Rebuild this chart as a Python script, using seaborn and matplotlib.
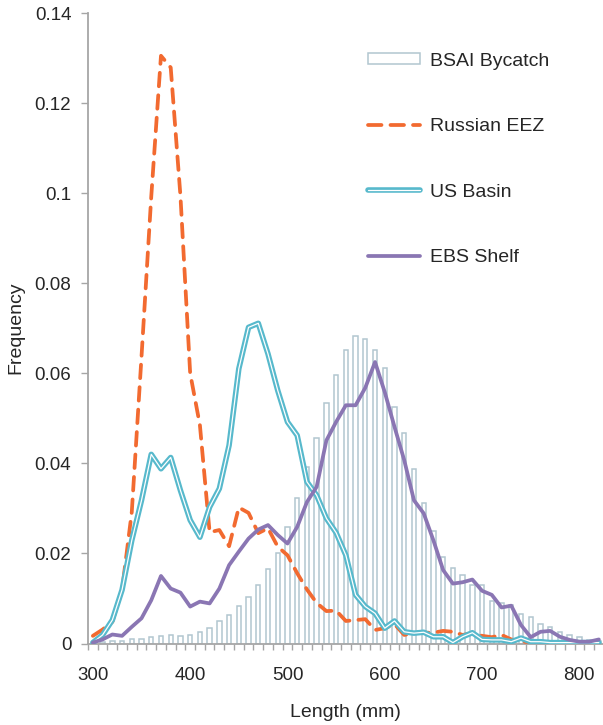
import matplotlib
matplotlib.use("Agg")
import numpy as np
import pandas as pd
import seaborn as sns
import matplotlib.pyplot as plt
import matplotlib.patheffects as pe
from matplotlib.ticker import FixedLocator

# length classes (mm), 10 mm bins
lengths = list(range(300, 830, 10))

bsai_bycatch = [
    0.0000, 0.0003, 0.0005, 0.0006, 0.0009, 0.0011, 0.0014, 0.0017, 0.0019, 0.0017,
    0.0018, 0.0025, 0.0035, 0.0051, 0.0064, 0.0084, 0.0104, 0.0131, 0.0165, 0.0200,
    0.0259, 0.0322, 0.0392, 0.0457, 0.0535, 0.0597, 0.0651, 0.0682, 0.0677, 0.0651,
    0.0612, 0.0525, 0.0467, 0.0388, 0.0311, 0.0249, 0.0192, 0.0168, 0.0153, 0.0130,
    0.0130, 0.0094, 0.0089, 0.0085, 0.0065, 0.0058, 0.0043, 0.0037, 0.0026, 0.0019,
    0.0014, 0.0008, 0.0005,
]
russian_eez = [
    0.0017, 0.0031, 0.0048, 0.0119, 0.0292, 0.0637, 0.0992, 0.1305, 0.1279, 0.0994,
    0.0600, 0.0485, 0.0247, 0.0252, 0.0216, 0.0302, 0.0290, 0.0245, 0.0256, 0.0215,
    0.0196, 0.0156, 0.0120, 0.0090, 0.0072, 0.0073, 0.0050, 0.0052, 0.0054, 0.0030,
    0.0034, 0.0043, 0.0019, 0.0023, 0.0024, 0.0024, 0.0028, 0.0026, 0.0019, 0.0023,
    0.0017, 0.0014, 0.0019, 0.0009, 0.0004, 0.0003, 0.0003, 0.0003, 0.0003, 0.0003,
    0.0003, 0.0003, 0.0003,
]
us_basin = [
    0.0002, 0.0019, 0.0052, 0.0119, 0.0229, 0.0318, 0.0420, 0.0388, 0.0413, 0.0340,
    0.0274, 0.0236, 0.0303, 0.0344, 0.0440, 0.0610, 0.0702, 0.0711, 0.0643, 0.0562,
    0.0492, 0.0462, 0.0359, 0.0329, 0.0278, 0.0246, 0.0196, 0.0108, 0.0082, 0.0067,
    0.0034, 0.0050, 0.0026, 0.0023, 0.0025, 0.0015, 0.0015, 0.0002, 0.0015, 0.0024,
    0.0009, 0.0008, 0.0008, 0.0004, 0.0012, 0.0004, 0.0004, 0.0002, 0.0002, 0.0002,
    0.0002, 0.0002, 0.0002,
]
ebs_shelf = [
    0.0002, 0.0009, 0.0020, 0.0017, 0.0037, 0.0056, 0.0096, 0.0150, 0.0122, 0.0113,
    0.0082, 0.0093, 0.0089, 0.0122, 0.0174, 0.0204, 0.0233, 0.0253, 0.0263, 0.0241,
    0.0222, 0.0259, 0.0314, 0.0348, 0.0451, 0.0492, 0.0529, 0.0529, 0.0568, 0.0625,
    0.0558, 0.0481, 0.0407, 0.0318, 0.0289, 0.0229, 0.0163, 0.0133, 0.0136, 0.0142,
    0.0117, 0.0108, 0.0080, 0.0084, 0.0041, 0.0014, 0.0026, 0.0028, 0.0015, 0.0008,
    0.0004, 0.0004, 0.0009,
]

series_names = ["BSAI Bycatch", "Russian EEZ", "US Basin", "EBS Shelf"]
x_ticks = [300, 400, 500, 600, 700, 800]
y_ticks = [0, 0.02, 0.04, 0.06, 0.08, 0.10, 0.12, 0.14]
y_tick_labels = ["0", "0.02", "0.04", "0.06", "0.08", "0.1", "0.12", "0.14"]

sns.set_style("ticks")
plt.rcParams['font.family'] = ['Liberation Sans', 'DejaVu Sans']

ORANGE = "#f26a30"
CYAN = "#57b9cc"
PURPLE = "#8a76b3"
BAR_EDGE = "#b2c6d0"
AXIS_GRAY = "#a6a6a6"

fig = plt.figure(figsize=(6.03, 7.25), dpi=100)
ax = fig.add_axes([88 / 603, 81.5 / 725, 515.7 / 603, 630.5 / 725])

df = pd.DataFrame({
    "length": lengths,
    "bycatch": bsai_bycatch,
    "russian": russian_eez,
    "basin": us_basin,
    "shelf": ebs_shelf,
})

sns.barplot(data=df, x="length", y="bycatch", native_scale=True, width=0.45,
            color="white", edgecolor=BAR_EDGE, linewidth=1.1, errorbar=None,
            saturation=1, ax=ax, zorder=1)

sns.lineplot(data=df, x="length", y="russian", color=ORANGE, lw=2.7,
             dashes=False, ax=ax, zorder=3)
ax.lines[-1].set_dashes([3.6, 2.4])
ax.lines[-1].set_dash_capstyle("round")

sns.lineplot(data=df, x="length", y="basin", color="white", lw=0.9, ax=ax, zorder=4,
             path_effects=[pe.Stroke(linewidth=4.0, foreground=CYAN), pe.Normal()])

sns.lineplot(data=df, x="length", y="shelf", color=PURPLE, lw=2.7, ax=ax, zorder=5,
             solid_joinstyle="round", solid_capstyle="round")

ax.set_xlim(295, 825)
ax.set_ylim(0, 0.14)

ax.xaxis.set_major_locator(FixedLocator(x_ticks))
ax.set_xticklabels([str(v) for v in x_ticks])
ax.xaxis.set_minor_locator(FixedLocator(np.arange(295, 826, 10)))
ax.tick_params(axis="x", which="major", length=0, pad=17, labelsize=13.5)
ax.tick_params(axis="x", which="minor", length=4, width=1, color=AXIS_GRAY,
               direction="out")
ax.set_yticks(y_ticks)
ax.set_yticklabels(y_tick_labels)
ax.tick_params(axis="y", length=5, width=1, color=AXIS_GRAY, pad=7, labelsize=13.5)

for side in ["top", "right"]:
    ax.spines[side].set_visible(False)
for side in ["left", "bottom"]:
    ax.spines[side].set_color(AXIS_GRAY)
    ax.spines[side].set_linewidth(1.3)

ax.set_xlabel("Length (mm)", fontsize=14, labelpad=14)
ax.set_ylabel("Frequency", fontsize=14, labelpad=7)

handles = [ax.containers[0], ax.lines[0], ax.lines[1], ax.lines[2]]
ax.legend(handles, series_names, loc="upper left",
          bbox_to_anchor=(350 / 603, 1 - 35 / 725), bbox_transform=fig.transFigure,
          frameon=False, fontsize=14, handlelength=2.7, handleheight=0.55,
          handletextpad=0.5, labelspacing=2.5)

fig.savefig("out.png", dpi=100)
